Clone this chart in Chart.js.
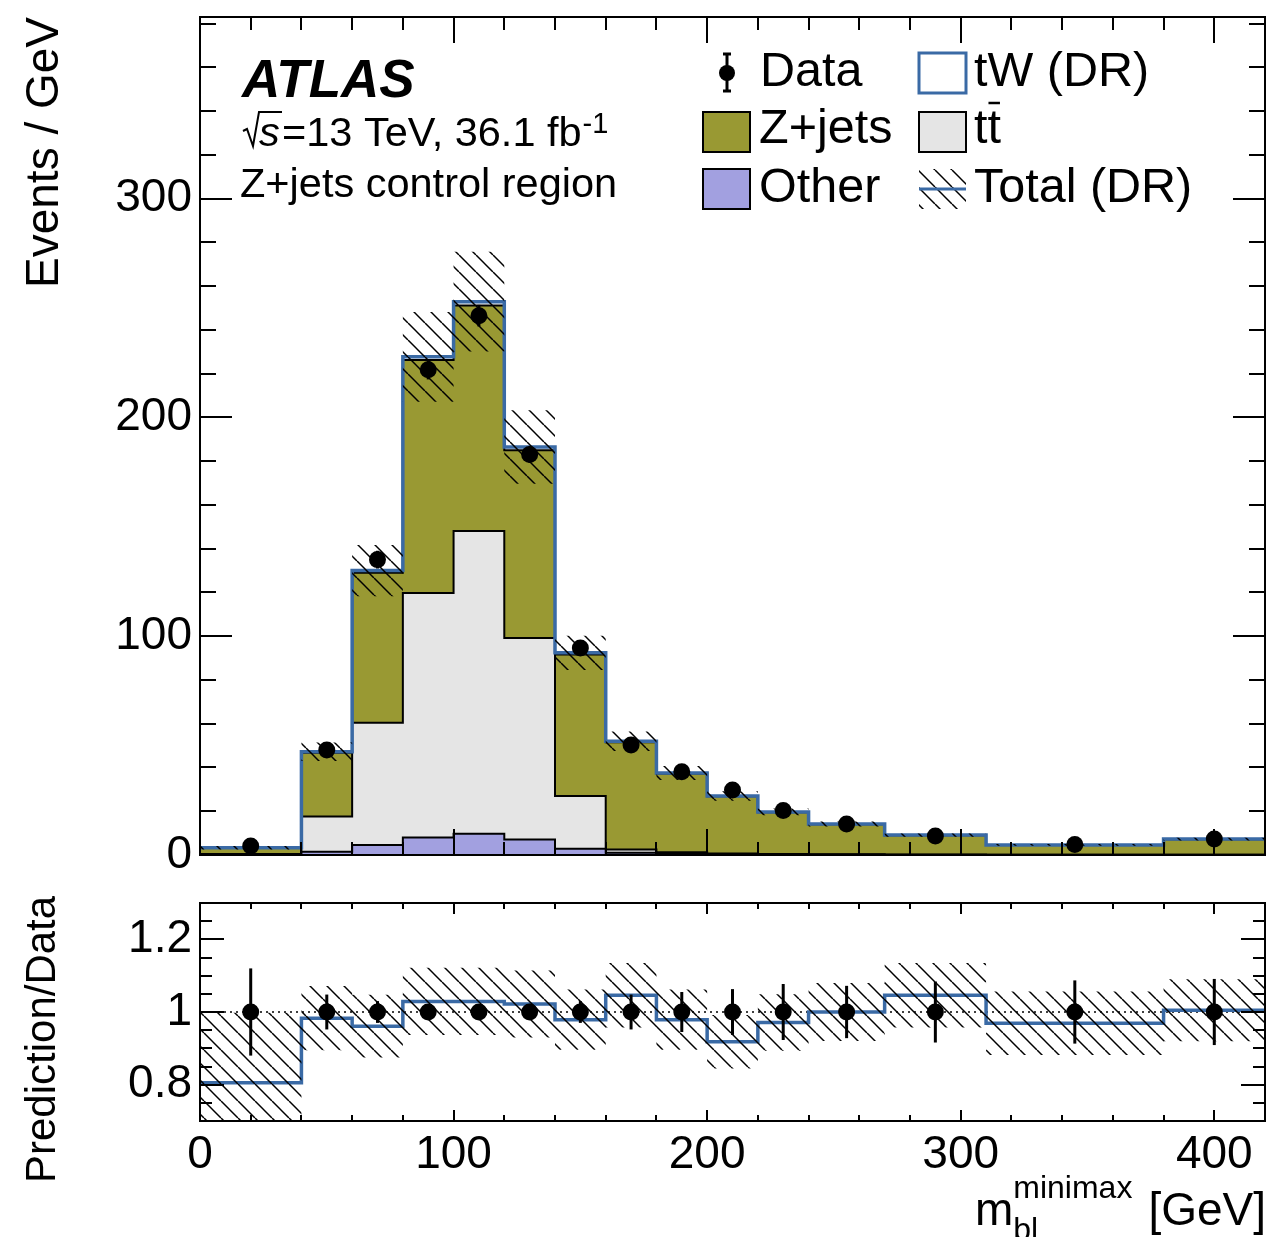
<!DOCTYPE html>
<html>
<head>
<meta charset="utf-8">
<script src="https://cdn.jsdelivr.net/npm/chart.js@4.4.1/dist/chart.umd.min.js"></script>
<style>
  html, body { margin: 0; padding: 0; background: #fff; }
  #wrap { position: relative; width: 1267px; height: 1237px; overflow: hidden; }
  canvas { position: absolute; left: 0; }
  #main { top: 0; }
  #ratio { top: 880px; }
</style>
</head>
<body>
<div id="wrap">
  <canvas id="main" width="1267" height="880"></canvas>
  <canvas id="ratio" width="1267" height="357"></canvas>
</div>
<script>
// bin edges in GeV (variable width)
const binEdges = [0, 40, 60, 80, 100, 120, 140, 160, 180, 200, 220, 240, 270, 310, 380, 420];

// stacked components, events / GeV
const otherVals = [0.2, 1.5, 4.6, 8.0, 9.7, 7.1, 2.8, 1.0, 0.6, 0.4, 0.3, 0.2, 0.15, 0.1, 0.1];
const ttbarVals = [0.3, 16.1, 55.8, 111.8, 138.4, 92.1, 24.2, 1.5, 0.6, 0.3, 0.2, 0.1, 0.1, 0.05, 0.05];
const zjetsVals = [2.7, 29.1, 68.6, 106.4, 103.0, 85.8, 64.6, 49.0, 36.0, 26.1, 19.0, 13.8, 8.75, 4.4, 7.1];
const twVals = [0.1, 0.5, 1.0, 1.5, 1.8, 1.5, 0.8, 0.5, 0.3, 0.2, 0.2, 0.1, 0.1, 0.05, 0.05];

// data
const dataX = [20, 50, 70, 90, 110, 130, 150, 170, 190, 210, 230, 255, 290, 345, 400];
const dataVals = [4.1, 48, 135, 221.8, 246.5, 183, 94.6, 50.3, 38, 29.7, 20.3, 14.2, 8.7, 4.75, 7.3];
const dataRelErr = [0.12, 0.048, 0.03, 0.02, 0.02, 0.02, 0.03, 0.048, 0.055, 0.063, 0.077, 0.072, 0.084, 0.087, 0.091];

// total prediction relative uncertainty (hatched band)
const totalRelUnc = [0.24, 0.09, 0.09, 0.09, 0.09, 0.09, 0.085, 0.085, 0.085, 0.08, 0.08, 0.08, 0.085, 0.09, 0.085];

// ratio panel
const ratioVals = [0.805, 0.983, 0.961, 1.029, 1.029, 1.022, 0.979, 1.046, 0.979, 0.918, 0.971, 1.0, 1.046, 0.969, 1.005];
const ratioDataVals = [1, 1, 1, 1, 1, 1, 1, 1, 1, 1, 1, 1, 1, 1, 1];

// tick labels
const mainYTicks = [0, 100, 200, 300];
const ratioYTicks = [0.8, 1, 1.2];
const xTicks = [0, 100, 200, 300, 400];

const FONT = '"Liberation Sans", Arial, Helvetica, sans-serif';
Chart.defaults.font.family = FONT;
Chart.defaults.color = '#000';

const OLIVE = '#999933';
const TTGREY = '#e5e5e5';
const LAVENDER = '#a2a0e0';
const BLUE = '#3a6aa5';

function cumulate(...arrs) {
  return arrs[0].map((_, i) => arrs.reduce((s, a) => s + a[i], 0));
}
function stepPoints(vals) {
  const pts = [];
  vals.forEach((v, i) => {
    pts.push({x: binEdges[i], y: v});
    pts.push({x: binEdges[i + 1], y: v});
  });
  return pts;
}

function makeHatch() {
  const s = 17;
  const c = document.createElement('canvas');
  c.width = s; c.height = s;
  const g = c.getContext('2d');
  g.strokeStyle = '#000';
  g.lineWidth = 1.5;
  for (const k of [-1, 0, 1]) {
    g.beginPath();
    g.moveTo(k * s, 0);
    g.lineTo(k * s + s, s);
    g.stroke();
  }
  return g.createPattern(c, 'repeat');
}
const hatch = makeHatch();

const cumOther = otherVals.slice();
const cumTt = cumulate(otherVals, ttbarVals);
const cumZ = cumulate(otherVals, ttbarVals, zjetsVals);
const cumTotal = cumulate(otherVals, ttbarVals, zjetsVals, twVals);
const bandUp = cumTotal.map((v, i) => v * (1 + totalRelUnc[i]));
const bandDown = cumTotal.map((v, i) => v * (1 - totalRelUnc[i]));
const rBandUp = ratioVals.map((v, i) => v * (1 + totalRelUnc[i]));
const rBandDown = ratioVals.map((v, i) => v * (1 - totalRelUnc[i]));

// ROOT-like frame, inward ticks, error bars and free text
const rootStyle = {
  id: 'rootStyle',
  afterDatasetsDraw(chart) {
    const ctx = chart.ctx, xs = chart.scales.x, ys = chart.scales.y, a = chart.chartArea;
    ctx.save();
    ctx.beginPath();
    ctx.rect(a.left, a.top, a.right - a.left, a.bottom - a.top);
    ctx.clip();
    ctx.strokeStyle = '#000';
    ctx.lineWidth = 3;
    chart.data.datasets.forEach(ds => {
      if (!ds.errors) return;
      ds.data.forEach((p, i) => {
        const px = xs.getPixelForValue(p.x);
        ctx.beginPath();
        ctx.moveTo(px, ys.getPixelForValue(p.y - ds.errors[i]));
        ctx.lineTo(px, ys.getPixelForValue(p.y + ds.errors[i]));
        ctx.stroke();
      });
    });
    ctx.restore();
  },
  afterDraw(chart, args, opts) {
    const ctx = chart.ctx, xs = chart.scales.x, ys = chart.scales.y, a = chart.chartArea;
    ctx.save();
    ctx.strokeStyle = '#000';
    ctx.lineWidth = 2;
    const line = (x1, y1, x2, y2) => { ctx.beginPath(); ctx.moveTo(x1, y1); ctx.lineTo(x2, y2); ctx.stroke(); };
    const isMajor = (v, m) => Math.abs(v / m - Math.round(v / m)) < 1e-6;
    // x ticks
    const nx = Math.floor((xs.max - xs.min) / opts.xMinor + 1e-6);
    for (let k = 0; k <= nx; k++) {
      const v = xs.min + k * opts.xMinor;
      const len = isMajor(v, opts.xMajor) ? opts.xMajorLen : opts.xMinorLen;
      const px = Math.round(xs.getPixelForValue(v));
      line(px, a.bottom, px, a.bottom - len);
      line(px, a.top, px, a.top + len);
    }
    // y ticks
    const ny = Math.floor((ys.max - ys.min) / opts.yMinor + 1e-6);
    for (let k = 0; k <= ny; k++) {
      const v = ys.min + k * opts.yMinor;
      const len = isMajor(v, opts.yMajor) ? opts.yMajorLen : opts.yMinorLen;
      const py = Math.round(ys.getPixelForValue(v));
      line(a.left, py, a.left + len, py);
      line(a.right, py, a.right - len, py);
    }
    ctx.strokeRect(a.left, a.top, a.right - a.left, a.bottom - a.top);
    ctx.restore();
    if (opts.draw) {
      ctx.save();
      opts.draw(ctx, chart);
      ctx.restore();
    }
  }
};

function drawMainText(ctx) {
  ctx.fillStyle = '#000';
  ctx.textAlign = 'left';
  ctx.textBaseline = 'alphabetic';

  // ATLAS label
  ctx.font = 'italic bold 53px ' + FONT;
  ctx.fillText('ATLAS', 242, 97);

  // sqrt(s) line
  ctx.strokeStyle = '#000';
  ctx.lineWidth = 2;
  ctx.beginPath();
  ctx.moveTo(243, 131); ctx.lineTo(247, 129); ctx.lineTo(253, 146); ctx.lineTo(259, 112); ctx.lineTo(282, 112);
  ctx.stroke();
  ctx.font = 'italic 41.5px ' + FONT;
  ctx.fillText('s', 259, 146);
  ctx.font = '41.5px ' + FONT;
  const t1 = '=13 TeV, 36.1 fb';
  ctx.fillText(t1, 282, 146);
  const w1 = ctx.measureText(t1).width;
  ctx.font = '29px ' + FONT;
  ctx.fillText('-1', 282 + w1 + 1, 133);

  ctx.font = '41.5px ' + FONT;
  ctx.fillText('Z+jets control region', 240, 197);

  // legend
  ctx.font = '48.5px ' + FONT;
  // Data
  ctx.lineWidth = 3;
  ctx.beginPath(); ctx.moveTo(727, 54); ctx.lineTo(727, 91); ctx.stroke();
  ctx.beginPath(); ctx.moveTo(723, 54); ctx.lineTo(731, 54); ctx.moveTo(723, 91); ctx.lineTo(731, 91); ctx.stroke();
  ctx.beginPath(); ctx.arc(727, 73, 8, 0, Math.PI * 2); ctx.fill();
  ctx.fillText('Data', 760, 86);

  const box = (x, y, fill, stroke, lw) => {
    ctx.fillStyle = fill;
    ctx.fillRect(x, y, 47, 40);
    ctx.strokeStyle = stroke;
    ctx.lineWidth = lw;
    ctx.strokeRect(x, y, 47, 40);
    ctx.fillStyle = '#000';
  };
  box(703, 112, OLIVE, '#000', 2);
  ctx.fillText('Z+jets', 759, 143);
  box(703, 169, LAVENDER, '#000', 2);
  ctx.fillText('Other', 759, 202);

  box(919, 53, '#fff', BLUE, 3);
  ctx.fillText('tW (DR)', 974, 86);
  box(919, 112, TTGREY, '#000', 2);
  ctx.fillText('tt', 974, 143);
  const tw = ctx.measureText('t').width;
  ctx.strokeStyle = '#000';
  ctx.lineWidth = 2.5;
  ctx.beginPath(); ctx.moveTo(974 + tw + 1, 103); ctx.lineTo(974 + 2 * tw - 1, 103); ctx.stroke();

  ctx.fillStyle = hatch;
  ctx.fillRect(919, 169, 47, 40);
  ctx.strokeStyle = BLUE;
  ctx.lineWidth = 3;
  ctx.beginPath(); ctx.moveTo(919, 189); ctx.lineTo(966, 189); ctx.stroke();
  ctx.fillStyle = '#000';
  ctx.fillText('Total (DR)', 974, 202);

  // y title
  ctx.save();
  ctx.translate(58, 288);
  ctx.rotate(-Math.PI / 2);
  ctx.font = '46px ' + FONT;
  ctx.fillText('Events / GeV', 0, 0);
  ctx.restore();
}

function drawRatioText(ctx) {
  ctx.fillStyle = '#000';
  ctx.textAlign = 'left';
  ctx.textBaseline = 'alphabetic';
  ctx.save();
  ctx.translate(55, 303);
  ctx.rotate(-Math.PI / 2);
  ctx.font = '42px ' + FONT;
  ctx.fillText('Prediction/Data', 0, 0);
  ctx.restore();

  // x title: m_bl^minimax [GeV]
  const xEnd = 1266;
  ctx.font = '46px ' + FONT;
  const wG = ctx.measureText('[GeV]').width;
  ctx.fillText('[GeV]', xEnd - wG, 345);
  ctx.font = '32px ' + FONT;
  const wSup = ctx.measureText('minimax').width;
  const supX = xEnd - wG - 16 - wSup;
  ctx.fillText('minimax', supX, 318);
  ctx.fillText('bl', supX, 360);
  ctx.font = '46px ' + FONT;
  const wm = ctx.measureText('m').width;
  ctx.fillText('m', supX - wm, 345);
}

const lineDs = (pts, extra) => Object.assign({
  type: 'line', data: pts, pointRadius: 0, tension: 0, fill: false,
  borderWidth: 2, borderColor: '#000'
}, extra);

const yFit = s => { s.width = 200; s.paddingTop = 0; s.paddingBottom = 0; };
const xFit = h => s => { s.height = h; s.paddingLeft = 0; s.paddingRight = 0; };

new Chart(document.getElementById('main'), {
  type: 'line',
  data: {
    datasets: [
      {
        type: 'scatter', data: dataX.map((x, i) => ({x, y: dataVals[i]})),
        errors: dataVals.map((v, i) => v * dataRelErr[i]),
        pointRadius: 8.5, pointBackgroundColor: '#000', pointBorderWidth: 0, showLine: false
      },
      lineDs(stepPoints(bandUp), {fill: '+1', backgroundColor: hatch, borderColor: 'rgba(0,0,0,0)', borderWidth: 1}),
      lineDs(stepPoints(bandDown), {borderColor: 'rgba(0,0,0,0)', borderWidth: 1}),
      lineDs(stepPoints(cumTotal), {borderColor: BLUE, borderWidth: 3.5}),
      lineDs(stepPoints(cumOther), {fill: 'origin', backgroundColor: LAVENDER}),
      lineDs(stepPoints(cumTt), {fill: 'origin', backgroundColor: TTGREY}),
      lineDs(stepPoints(cumZ), {fill: 'origin', backgroundColor: OLIVE})
    ]
  },
  options: {
    responsive: false,
    animation: false,
    events: [],
    layout: {autoPadding: false, padding: {top: 17, right: 2, left: 0, bottom: 0}},
    scales: {
      x: {
        type: 'linear', min: 0, max: 420,
        grid: {display: false, drawTicks: false}, border: {display: false},
        ticks: {display: false},
        afterBuildTicks: s => { s.ticks = xTicks.map(v => ({value: v})); },
        afterFit: xFit(25)
      },
      y: {
        type: 'linear', min: 0, max: 383,
        grid: {display: false, drawTicks: false}, border: {display: false},
        ticks: {font: {size: 46}, color: '#000', padding: 8, callback: v => String(v)},
        afterBuildTicks: s => { s.ticks = mainYTicks.map(v => ({value: v})); },
        afterFit: yFit
      }
    },
    plugins: {
      legend: {display: false},
      tooltip: {enabled: false},
      rootStyle: {
        xMajor: 100, xMinor: 20, xMajorLen: 26, xMinorLen: 13,
        yMajor: 100, yMinor: 20, yMajorLen: 32, yMinorLen: 16,
        draw: drawMainText
      }
    }
  },
  plugins: [rootStyle]
});

new Chart(document.getElementById('ratio'), {
  type: 'line',
  data: {
    datasets: [
      {
        type: 'scatter', data: dataX.map((x, i) => ({x, y: ratioDataVals[i]})),
        errors: dataRelErr,
        pointRadius: 8.5, pointBackgroundColor: '#000', pointBorderWidth: 0, showLine: false
      },
      lineDs(stepPoints(rBandUp), {fill: '+1', backgroundColor: hatch, borderColor: 'rgba(0,0,0,0)', borderWidth: 1}),
      lineDs(stepPoints(rBandDown), {borderColor: 'rgba(0,0,0,0)', borderWidth: 1}),
      lineDs(stepPoints(ratioVals), {borderColor: BLUE, borderWidth: 3.5}),
      lineDs([{x: 0, y: 1}, {x: 420, y: 1}], {borderWidth: 1.5, borderDash: [2, 4]})
    ]
  },
  options: {
    responsive: false,
    animation: false,
    events: [],
    layout: {autoPadding: false, padding: {top: 23, right: 2, left: 0, bottom: 0}},
    scales: {
      x: {
        type: 'linear', min: 0, max: 420,
        grid: {display: false, drawTicks: false}, border: {display: false},
        ticks: {font: {size: 46}, color: '#000', padding: 7, maxRotation: 0, autoSkip: false, callback: v => String(v)},
        afterBuildTicks: s => { s.ticks = xTicks.map(v => ({value: v})); },
        afterFit: xFit(116)
      },
      y: {
        type: 'linear', min: 0.7, max: 1.3,
        grid: {display: false, drawTicks: false}, border: {display: false},
        ticks: {font: {size: 46}, color: '#000', padding: 8, callback: v => String(v)},
        afterBuildTicks: s => { s.ticks = ratioYTicks.map(v => ({value: v})); },
        afterFit: yFit
      }
    },
    plugins: {
      legend: {display: false},
      tooltip: {enabled: false},
      rootStyle: {
        xMajor: 100, xMinor: 20, xMajorLen: 11, xMinorLen: 6,
        yMajor: 0.2, yMinor: 0.05, yMajorLen: 24, yMinorLen: 12,
        draw: drawRatioText
      }
    }
  },
  plugins: [rootStyle]
});
</script>
</body>
</html>
